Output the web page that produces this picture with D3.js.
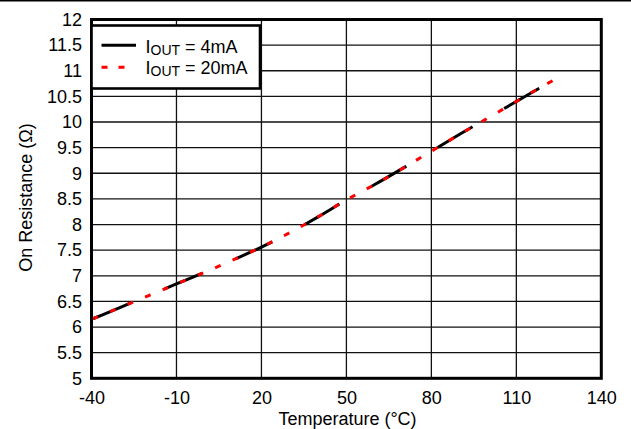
<!DOCTYPE html>
<html>
<head>
<meta charset="utf-8">
<script src="https://cdn.jsdelivr.net/npm/d3@7"></script>
<style>
  body { margin: 0; background: #fff; }
  svg { display: block; font-family: Arial, 'Liberation Sans', sans-serif; }
</style>
</head>
<body>
<svg id="chart" width="631" height="429"></svg>
<script>
const temps = [-40, -30, -20, -10, 0, 10, 20, 30, 40, 50, 60, 70, 80, 90, 100, 110, 120, 124];
const res4mA = [6.15, 6.38, 6.61, 6.84, 7.07, 7.31, 7.56, 7.84, 8.15, 8.48, 8.78, 9.10, 9.43, 9.76, 10.08, 10.40, 10.72, 10.84];
const res20mA = [6.15, 6.38, 6.61, 6.84, 7.07, 7.31, 7.56, 7.84, 8.15, 8.48, 8.78, 9.10, 9.43, 9.76, 10.08, 10.40, 10.72, 10.84];
const xTicks = [-40, -10, 20, 50, 80, 110, 140];
const yTicks = [5, 5.5, 6, 6.5, 7, 7.5, 8, 8.5, 9, 9.5, 10, 10.5, 11, 11.5, 12];
const seriesNames = ['4mA', '20mA'];

const plotLeft = 91.5, plotRight = 601.3, plotTop = 19.5, plotBottom = 378.3;

const svg = d3.select('#chart');

// rule at the very top of the page
svg.append('line')
  .attr('x1', 0).attr('x2', 631).attr('y1', 0.8).attr('y2', 0.8)
  .attr('stroke', '#000').attr('stroke-width', 1.6);

const x = d3.scaleLinear().domain([-40, 140]).range([plotLeft, plotRight]);
const y = d3.scaleLinear().domain([5, 12]).range([plotBottom, plotTop]);

// grid
const grid = svg.append('g').attr('stroke', '#111').attr('stroke-width', 1.3);
grid.selectAll('line.v')
  .data(xTicks.slice(1, -1))
  .enter().append('line')
  .attr('class', 'v')
  .attr('x1', (d) => x(d)).attr('x2', (d) => x(d))
  .attr('y1', plotTop).attr('y2', plotBottom);
grid.selectAll('line.h')
  .data(yTicks.slice(1, -1))
  .enter().append('line')
  .attr('class', 'h')
  .attr('x1', plotLeft).attr('x2', plotRight)
  .attr('y1', (d) => y(d)).attr('y2', (d) => y(d));

// axes (labels only)
const xAxis = d3.axisBottom(x).tickValues(xTicks).tickSize(0).tickPadding(13).tickFormat((d) => d);
const yAxis = d3.axisLeft(y).tickValues(yTicks).tickSize(0).tickPadding(9.5).tickFormat((d) => d);

svg.append('g')
  .attr('transform', `translate(0, ${plotBottom})`)
  .call(xAxis)
  .call((g) => g.select('.domain').remove())
  .selectAll('text')
  .attr('font-size', 18).attr('fill', '#000').attr('font-family', 'Arial, Liberation Sans');

svg.append('g')
  .attr('transform', `translate(${plotLeft}, 0)`)
  .call(yAxis)
  .call((g) => g.select('.domain').remove())
  .selectAll('text')
  .attr('font-size', 18).attr('fill', '#000').attr('font-family', 'Arial, Liberation Sans');

// axis titles
svg.append('text')
  .attr('x', 347.5).attr('y', 425)
  .attr('text-anchor', 'middle').attr('font-size', 18)
  .text('Temperature (°C)');

svg.append('text')
  .attr('transform', `translate(31.5, 197.5) rotate(-90)`)
  .attr('text-anchor', 'middle').attr('font-size', 18)
  .text('On Resistance (Ω)');

// data lines
const line = d3.line()
  .x((d) => x(d[0]))
  .y((d) => y(d[1]))
  .curve(d3.curveMonotoneX);

svg.append('path')
  .datum(temps.map((t, i) => [t, res4mA[i]]))
  .attr('d', line)
  .attr('fill', 'none')
  .attr('stroke', '#000')
  .attr('stroke-width', 3)
  .attr('stroke-dasharray', '40.5,36.5')
  .attr('stroke-dashoffset', -2.2);

svg.append('path')
  .datum(temps.map((t, i) => [t, res20mA[i]]))
  .attr('d', line)
  .attr('fill', 'none')
  .attr('stroke', '#ff0000')
  .attr('stroke-width', 3)
  .attr('stroke-dasharray', '6,13')
  .attr('stroke-dashoffset', -1);

// frame
svg.append('rect')
  .attr('x', plotLeft).attr('y', plotTop)
  .attr('width', plotRight - plotLeft).attr('height', plotBottom - plotTop)
  .attr('fill', 'none').attr('stroke', '#000').attr('stroke-width', 3);

// legend
const legend = svg.append('g');
legend.append('rect')
  .attr('x', plotLeft).attr('y', 25.5)
  .attr('width', 260 - plotLeft).attr('height', 63)
  .attr('fill', '#fff').attr('stroke', '#000').attr('stroke-width', 2.6);

const legendStyles = [
  { stroke: '#000', dash: null, x2: 136 },
  { stroke: '#ff0000', dash: '6,11', x2: 125 },
];

legend.selectAll('line')
  .data(seriesNames)
  .enter().append('line')
  .attr('x1', 101.5)
  .attr('x2', (d, i) => legendStyles[i].x2)
  .attr('y1', (d, i) => 45.3 + i * 22)
  .attr('y2', (d, i) => 45.3 + i * 22)
  .attr('stroke', (d, i) => legendStyles[i].stroke)
  .attr('stroke-width', 3)
  .attr('stroke-dasharray', (d, i) => legendStyles[i].dash);

const labels = legend.selectAll('text')
  .data(seriesNames)
  .enter().append('text')
  .attr('x', 145.5)
  .attr('y', (d, i) => 53.3 + i * 21)
  .attr('font-size', 18);
labels.append('tspan').text('I');
labels.append('tspan').attr('font-size', 14).attr('dy', 2).text('OUT');
labels.append('tspan').attr('dy', -2).text((d) => ` = ${d}`);
</script>
</body>
</html>
